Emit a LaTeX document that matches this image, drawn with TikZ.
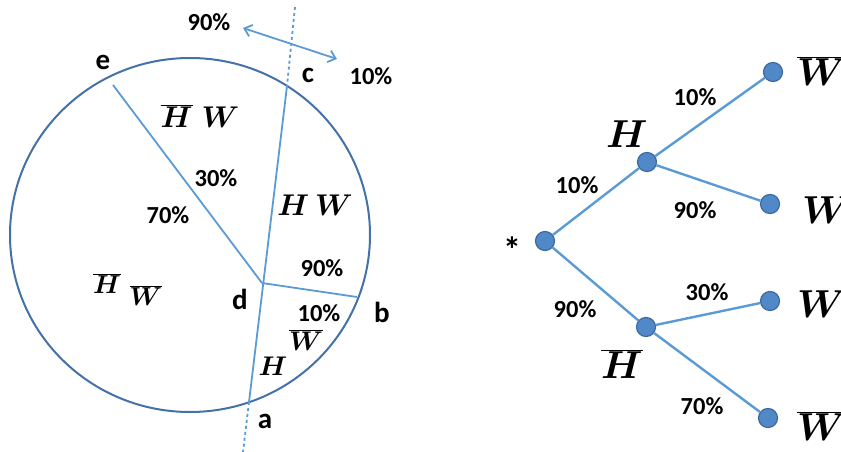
\RequirePackage{fix-cm}
\documentclass[tikz,border=0pt]{standalone}
\usepackage{fontspec}
\setsansfont{Carlito}
\usetikzlibrary{arrows.meta,shapes.geometric}
\definecolor{circblue}{HTML}{4472A8}
\definecolor{lineblue}{HTML}{5B9BD5}
\definecolor{nodefill}{HTML}{5088C8}
\definecolor{nodedraw}{HTML}{3D6B9E}
\begin{document}
\begin{tikzpicture}[x=1pt,y=-1pt,
  pct/.style={font=\sffamily\bfseries\fontsize{24.5}{26}\selectfont, inner sep=0pt},
  ltr/.style={font=\sffamily\bfseries\fontsize{29}{31}\selectfont, inner sep=0pt},
  msm/.style={font=\fontsize{26}{28}\selectfont\boldmath, inner sep=0pt, anchor=base},
  mmd/.style={font=\fontsize{27}{29}\selectfont\boldmath, inner sep=0pt, anchor=base},
  mlg/.style={font=\fontsize{30}{32}\selectfont\boldmath, inner sep=0pt, anchor=base},
  mtree/.style={font=\fontsize{39}{41}\selectfont\boldmath, inner sep=0pt, anchor=base},
  dot/.style={circle, fill=nodefill, draw=nodedraw, line width=1.2pt, minimum size=19pt, inner sep=0pt},
  tedge/.style={draw=lineblue, line width=2.4pt},
  cline/.style={draw=lineblue, line width=1.8pt}]
\useasboundingbox (0,0) rectangle (841,452);
% circle
\node[draw=circblue, line width=2pt, ellipse, minimum width=360pt, minimum height=354pt, inner sep=0pt] (circ) at (190,235) {};
\coordinate (top) at (295,7);
\coordinate (c) at (287,86);
\coordinate (d) at (262,283);
\coordinate (a) at (249,402);
\coordinate (bot) at (243,452);
\coordinate (b) at (357,297);
\coordinate (e) at (113,85);
\draw[cline, dashed] (top) -- (c);
\draw[cline] (c) -- (a);
\draw[cline, dashed] (a) -- (bot);
\draw[cline] (d) -- (b);
\draw[cline] (e) -- (d);
\coordinate (al) at (243,28);
\coordinate (ar) at (337,59);
\draw[lineblue, line width=1.8pt, {Straight Barb[length=7pt,width=12pt]}-{Straight Barb[length=7pt,width=12pt]}] (al) -- (ar);
% labels of circle
\node[pct] (p90t) at (209,22) {90\%};
\node[pct] (p10t) at (371,76) {10\%};
\node[ltr] (le) at (103,62) {e};
\node[ltr] (lc) at (308,75) {c};
\node[ltr] (ld) at (240,299) {d};
\node[ltr] (lb) at (382,312) {b};
\node[ltr] (la) at (265,421) {a};
\node[pct] (p30c) at (216,178) {30\%};
\node[pct] (p70c) at (168,215) {70\%};
\node[pct] (p90c) at (322,268) {90\%};
\node[pct] (p10c) at (319,313) {10\%};
\node[mlg] (hbw) at (200,127) {$\overline{H}\ W$};
\node[mlg] (hw) at (315,215) {$H\,W$};
\node[msm] (hbl) at (107,293) {$\overline{H}$};
\node[msm] (wbl) at (146,305) {$\overline{W}$};
\node[mmd] (wbr) at (306,350) {$\overline{W}$};
\node[mmd] (hr) at (273,375) {$H$};
% tree
\node[dot] (r) at (545,241) {};
\node[dot] (h) at (647,162) {};
\node[dot] (hb) at (646,327) {};
\node[dot] (w1) at (773,72) {};
\node[dot] (w2) at (770,204) {};
\node[dot] (w3) at (770,301) {};
\node[dot] (w4) at (768,418) {};
\draw[tedge] (r) -- (h);
\draw[tedge] (h) -- (w1);
\draw[tedge] (h) -- (w2);
\draw[tedge] (r) -- (hb);
\draw[tedge] (hb) -- (w3);
\draw[tedge] (hb) -- (w4);
\node[font=\sffamily\bfseries\fontsize{36}{38}\selectfont, inner sep=0pt] (star) at (512,250) {*};
\node[mtree] (lh) at (627,147) {$H$};
\node[mtree] (lhb) at (622,378) {$\overline{H}$};
\node[mtree, anchor=base west] (lw1) at (797,85) {$\overline{W}$};
\node[mtree, anchor=base west] (lw2) at (802,223) {$W$};
\node[mtree, anchor=base west] (lw3) at (797,317) {$W$};
\node[mtree, anchor=base west] (lw4) at (797,440) {$\overline{W}$};
\node[pct] (t10a) at (577,185) {10\%};
\node[pct] (t10b) at (695,97) {10\%};
\node[pct] (t90a) at (695,210) {90\%};
\node[pct] (t90b) at (575,309) {90\%};
\node[pct] (t30) at (707,292) {30\%};
\node[pct] (t70) at (702,406) {70\%};
\end{tikzpicture}
\end{document}
